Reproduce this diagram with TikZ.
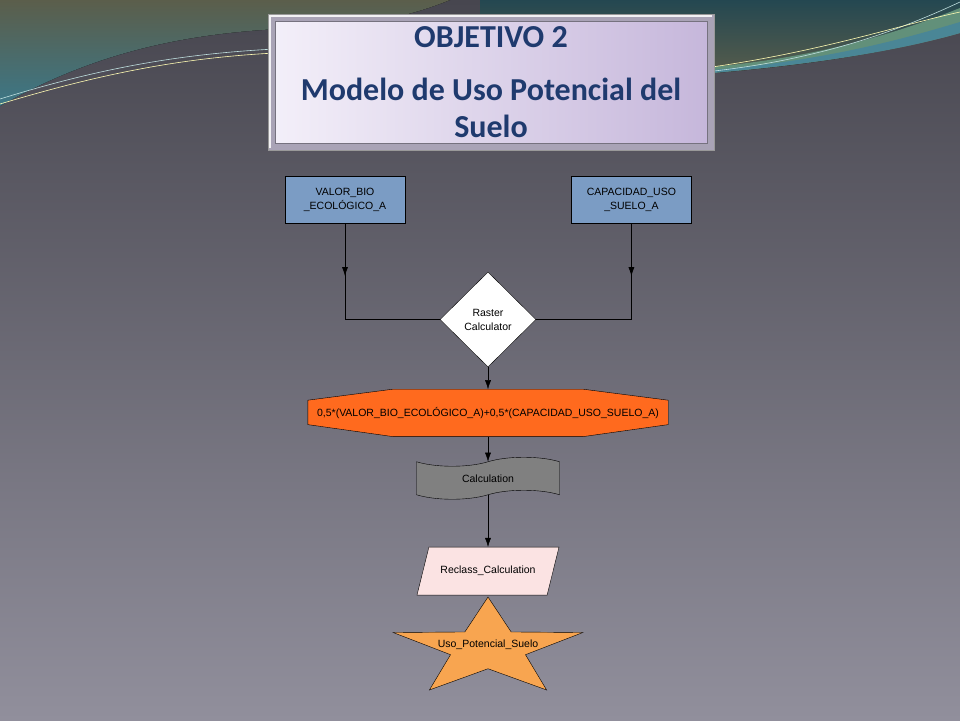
\documentclass[tikz,border=0pt]{standalone}
\usepackage{fontspec}
\setmainfont{Liberation Sans}
\newfontfamily\titlefont{Carlito}
\usetikzlibrary{arrows.meta,shapes.geometric,shapes.symbols,positioning,decorations.markings}

\definecolor{bgtop}{HTML}{47464F}
\definecolor{bgbot}{HTML}{918F9C}
\definecolor{swolive}{HTML}{5B5E4B}
\definecolor{swteal}{HTML}{3C7787}
\definecolor{swgreen}{HTML}{62907A}
\definecolor{swblue}{HTML}{4A8696}
\definecolor{framegray}{HTML}{A9A3B6}
\definecolor{panelleft}{HTML}{F3EFF9}
\definecolor{panelright}{HTML}{C6B7DB}
\definecolor{titleblue}{HTML}{1F3A6E}
\definecolor{layerblue}{HTML}{7B9CC4}
\definecolor{exprorange}{HTML}{FF6A1E}
\definecolor{calcgray}{HTML}{808080}
\definecolor{reclpink}{HTML}{FBE3E3}
\definecolor{starorange}{HTML}{F8A550}

\pgfdeclarelayer{back}
\pgfsetlayers{back,main}

\tikzset{
  midarrow/.style={postaction={decorate},
    decoration={markings, mark=at position 53pt with {\arrow{>}}}},
  flow/.style={draw, line width=0.8pt},
  nodetext/.style={font=\fontsize{10.5}{14}\selectfont, align=center}
}

\begin{document}
\begin{tikzpicture}[x=1pt, y=-1pt, >={Latex[length=9pt,width=6pt]}, line width=0.8pt,
    layer/.style={rectangle, draw, fill=layerblue, nodetext, minimum width=120pt, minimum height=47pt},
    tool/.style={diamond, draw, fill=white, nodetext, inner sep=0pt, minimum width=96pt, minimum height=95pt},
    expr/.style={rectangle, nodetext, inner sep=0pt, minimum width=360pt, minimum height=47pt},
    calc/.style={tape, tape bend height=9pt, draw, fill=calcgray, nodetext, minimum width=143pt, minimum height=42pt},
    recl/.style={trapezium, trapezium left angle=54, trapezium right angle=126, trapezium stretches body,
      draw, fill=reclpink, nodetext, minimum width=142pt, minimum height=48pt},
    result/.style={star, star points=5, star point ratio=2.53, draw, fill=starorange, inner sep=0pt, minimum size=102.8pt},
    titletext/.style={text=titleblue, anchor=base, font=\titlefont\bfseries\fontsize{32}{38}\selectfont}]
    \useasboundingbox (0,0) rectangle (960,720);

    \begin{pgfonlayer}{back}
    % Background
    \fill[top color=bgtop, bottom color=bgbot] (0,0) rectangle (960,720);
    \fill[top color=swolive, bottom color=swteal] (0,0) -- (0,106) .. controls (90,55) and (180,32) .. (300,28)
        .. controls (380,25) and (420,12) .. (450,0) -- cycle;
    \fill[top color=swteal!60!black, bottom color=swolive] (480,0) -- (480,80) -- (714,73)
        .. controls (820,64) and (900,50) .. (960,32) -- (960,0) -- cycle;
    \fill[swgreen] (700,68) .. controls (820,58) and (900,32) .. (960,8) -- (960,33) .. controls (900,50) and (820,64) .. (700,74) -- cycle;
    \fill[swblue] (700,71) .. controls (820,62) and (900,40) .. (960,22) -- (960,33) .. controls (900,50) and (820,64) .. (700,74) -- cycle;
    \draw[line width=0.6pt, white!75!teal] (0,99) .. controls (100,68) and (180,54) .. (275,49);
    \draw[line width=0.6pt, white!70!yellow] (0,104) .. controls (100,74) and (180,58) .. (275,53);
    \draw[line width=0.6pt, white!75!teal] (705,72) .. controls (820,60) and (900,30) .. (960,2);
    \draw[line width=0.6pt, white!70!yellow] (705,68) .. controls (820,52) and (900,25) .. (960,12);
    \end{pgfonlayer}

    % Title
    \node [rectangle, draw=black!40, fill=framegray, minimum width=446pt, minimum height=136pt] (title) at (491,82) {};
    \draw [white!85!framegray, line width=2pt] ([shift={(2pt,2pt)}]title.south west) -- ([shift={(2pt,-2pt)}]title.north west)
        -- ([shift={(-2pt,-2pt)}]title.north east);
    \node [rectangle, draw=framegray!70!black, line width=0.6pt, left color=panelleft, right color=panelright,
        minimum width=432pt, minimum height=122pt] (panel) at (title) {};
    \node [titletext] (titA) at (491,47)  {OBJETIVO 2};
    \node [titletext] (titB) at (491,100) {Modelo de Uso Potencial del};
    \node [titletext] (titC) at (491,137) {Suelo};

    % Nodes
    \node [layer]  (valor) at (345,199.5)            {VALOR\_BIO\\\_ECOLÓGICO\_A};
    \node [layer]  (capac) [right=166pt of valor]    {CAPACIDAD\_USO\\\_SUELO\_A};
    \node [tool]   (raster) at (488,319.5)           {Raster\\Calculator};
    \node [expr]   (expr)  [below=22pt of raster]    {0,5*(VALOR\_BIO\_ECOLÓGICO\_A)+0,5*(CAPACIDAD\_USO\_SUELO\_A)};
    \node [calc]   (calc)  [below=25pt of expr]      {Calculation};
    \node [recl]   (recl)  [below=52pt of calc]      {Reclass\_Calculation};
    \begin{scope}[shift={(488,648.4)}, xscale=1.94]
      \node [result, transform shape] (star) at (0,0) {};
    \end{scope}
    \node [nodetext, yshift=4pt] (uso) at (star.center) {Uso\_Potencial\_Suelo};

    % octagon round the expression
    \begin{pgfonlayer}{back}
    \filldraw [fill=exprorange] ([xshift=85pt]expr.north west) -- ([xshift=-85pt]expr.north east)
        -- ([yshift=-11pt]expr.north east) -- ([yshift=12pt]expr.south east)
        -- ([xshift=-85pt]expr.south east) -- ([xshift=85pt]expr.south west)
        -- ([yshift=12pt]expr.south west) -- ([yshift=-11pt]expr.north west) -- cycle;
    \end{pgfonlayer}

    % Paths
    \coordinate (jl) at (valor.south |- raster.west);
    \coordinate (jr) at (capac.south |- raster.east);
    \path [flow, midarrow] (valor.south) -- (jl) -- (raster.west);
    \path [flow, midarrow] (capac.south) -- (jr) -- (raster.east);
    \draw [->] (raster.south) -- (expr.north);
    \draw [->] (expr.south)   -- (calc.north);
    \draw [->] (calc.south)   -- (recl.north);

\end{tikzpicture}
\end{document}
